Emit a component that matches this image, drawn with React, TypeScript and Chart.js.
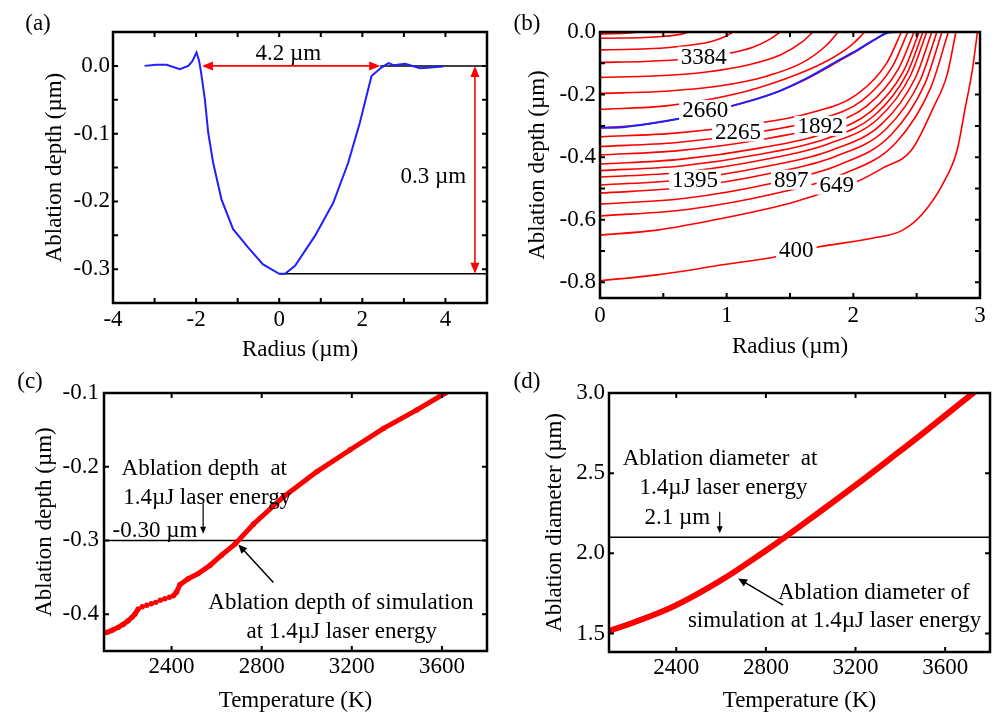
import React, { useEffect, useRef } from 'react';
import { Chart, registerables } from 'chart.js';

Chart.register(...registerables);

const FONT = '"Liberation Serif", "Times New Roman", serif';
const RED = '#ff0000';
const BLUE = '#2020ff';
const BLACK = '#000000';

// ---------- (a) measured crater profile ----------
const aRadius = [-3.24, -2.96, -2.71, -2.39, -2.19, -2.09, -1.99, -1.93, -1.88, -1.79, -1.71, -1.59, -1.39, -1.11, -0.75, -0.39, 0, 0.14, 0.38, 0.86, 1.3, 1.66, 1.94, 2.22, 2.46, 2.63, 2.75, 3.03, 3.39, 3.95];
const aDepth = [0, 0.0015, 0.0015, -0.005, 0, 0.007, 0.0197, 0.008, -0.01, -0.049, -0.098, -0.143, -0.197, -0.241, -0.268, -0.293, -0.307, -0.307, -0.295, -0.251, -0.202, -0.143, -0.084, -0.015, -0.0025, 0.004, 0.001, 0.003, -0.0034, -0.001];
const aArrowSpan = [-1.86, 2.43];
const aArrowX = 4.71;
const aBottom = -0.307;
const aXTicks = [-4, -3, -2, -1, 0, 1, 2, 3, 4, 5];
const aYTicks = [-0.35, -0.3, -0.25, -0.2, -0.15, -0.1, -0.05, 0, 0.05];

// ---------- (b) isotherm contours ----------
const bProfileR = [0, 0.15, 0.32, 0.71, 0.97, 1.37, 1.63, 1.89, 2.03, 2.16, 2.26, 2.35, 2.45];
const bProfileD = [-0.306, -0.305, -0.297, -0.27, -0.244, -0.196, -0.148, -0.089, -0.058, -0.026, -0.004, 0, 0];
const contourLines = [
  [[0, -0.006], [0.1, -0.0055], [0.2, -0.004], [0.26, -0.002], [0.29, 0]],
  [[0, -0.02], [0.175, -0.0194], [0.35, -0.0176], [0.49, -0.0144], [0.595, -0.01], [0.665, -0.0044], [0.7, 0]],
  [[0, -0.057], [0.263, -0.0553], [0.525, -0.0502], [0.735, -0.041], [0.893, -0.0285], [0.998, -0.0125], [1.05, 0]],
  [[0, -0.097], [0.355, -0.0941], [0.71, -0.0854], [0.994, -0.0698], [1.207, -0.0485], [1.349, -0.0213], [1.42, 0]],
  [[0, -0.145], [0.42, -0.1407], [0.84, -0.1276], [1.176, -0.1044], [1.428, -0.0725], [1.596, -0.0319], [1.68, 0]],
  [[0, -0.196], [0.47, -0.1901], [0.94, -0.1725], [1.316, -0.1411], [1.598, -0.098], [1.786, -0.0431], [1.88, 0]],
  [[0, -0.247], [0.52, -0.236], [1.05, -0.2], [1.46, -0.15], [1.78, -0.095], [1.99, -0.04], [2.09, 0]],
  [[0, -0.306], [0.32, -0.297], [0.71, -0.27], [0.97, -0.244], [1.37, -0.196], [1.63, -0.15], [1.89, -0.092], [2.05, -0.055], [2.18, -0.022], [2.27, 0]],
  [[0, -0.335], [0.595, -0.323], [1.19, -0.295], [1.666, -0.258], [2.023, -0.201], [2.261, -0.101], [2.38, 0]],
  [[0, -0.366], [0.608, -0.353], [1.215, -0.322], [1.701, -0.282], [2.066, -0.22], [2.309, -0.11], [2.43, 0]],
  [[0, -0.393], [0.62, -0.379], [1.24, -0.346], [1.736, -0.303], [2.108, -0.236], [2.356, -0.118], [2.48, 0]],
  [[0, -0.422], [0.63, -0.407], [1.26, -0.371], [1.764, -0.325], [2.142, -0.253], [2.394, -0.127], [2.52, 0]],
  [[0, -0.443], [0.638, -0.428], [1.275, -0.39], [1.785, -0.341], [2.168, -0.266], [2.423, -0.133], [2.55, 0]],
  [[0, -0.464], [0.645, -0.448], [1.29, -0.408], [1.806, -0.357], [2.193, -0.278], [2.451, -0.139], [2.58, 0]],
  [[0, -0.489], [0.655, -0.472], [1.31, -0.43], [1.834, -0.377], [2.227, -0.293], [2.489, -0.147], [2.62, 0]],
  [[0, -0.515], [0.665, -0.497], [1.33, -0.453], [1.862, -0.397], [2.261, -0.309], [2.527, -0.155], [2.66, 0]],
  [[0, -0.55], [0.675, -0.531], [1.35, -0.484], [1.89, -0.424], [2.295, -0.33], [2.565, -0.165], [2.7, 0]],
  [[0, -0.588], [0.688, -0.567], [1.375, -0.517], [1.925, -0.453], [2.338, -0.353], [2.613, -0.176], [2.75, 0]],
  [[0, -0.649], [0.45, -0.633], [0.97, -0.595], [1.5, -0.547], [1.71, -0.521], [2.03, -0.478], [2.23, -0.435], [2.46, -0.377], [2.63, -0.243], [2.74, -0.137], [2.81, 0]],
  [[0, -0.795], [0.45, -0.776], [0.97, -0.744], [1.39, -0.718], [1.71, -0.688], [2.15, -0.659], [2.39, -0.633], [2.55, -0.579], [2.71, -0.483], [2.82, -0.377], [2.88, -0.25], [2.94, -0.12], [2.98, 0]],
];
const contourLabels = ['3384', '2660', '2265', '1892', '1395', '897', '649', '400'];
const contourLabelR = [0.82, 0.83, 1.09, 1.74, 0.75, 1.51, 1.87, 1.55];
const contourLabelD = [-0.079, -0.249, -0.318, -0.3, -0.472, -0.472, -0.488, -0.696];
const bXTicks = [0, 0.5, 1, 1.5, 2, 2.5, 3];
const bYTicks = [-0.8, -0.7, -0.6, -0.5, -0.4, -0.3, -0.2, -0.1, 0];

// ---------- (c) depth vs temperature ----------
const cTemp = [2111, 2135, 2163, 2185, 2207, 2225, 2237, 2252, 2270, 2290, 2310, 2330, 2350, 2370, 2390, 2408, 2422, 2437, 2474, 2518, 2570, 2622, 2681, 2763, 2896, 3044, 3193, 3341, 3489, 3615];
const cDepth = [-0.425, -0.422, -0.418, -0.414, -0.409, -0.404, -0.4, -0.393, -0.39, -0.388, -0.386, -0.384, -0.381, -0.379, -0.377, -0.375, -0.37, -0.36, -0.352, -0.345, -0.334, -0.32, -0.305, -0.278, -0.241, -0.207, -0.177, -0.148, -0.123, -0.1];
const cDotted = [2250, 2410];
const cTarget = -0.3;
const cXTicks = [2400, 2800, 3200, 3600];
const cYTicks = [-0.4, -0.3, -0.2, -0.1];

// ---------- (d) diameter vs temperature ----------
const dTemp = [2102, 2236, 2400, 2609, 2802, 2884, 3056, 3205, 3354, 3503, 3734];
const dDiam = [1.517, 1.583, 1.677, 1.84, 2.02, 2.1, 2.275, 2.43, 2.59, 2.752, 3.01];
const dTarget = 2.1;
const dXTicks = [2400, 2800, 3200, 3600];
const dYTicks = [1.5, 2.0, 2.5, 3.0];

const pts = (xs: number[], ys: number[]) => xs.map((x, i) => ({ x, y: ys[i] }));
const pairs = (p: number[][]) => p.map(([x, y]) => ({ x, y }));

function drawHead(ctx: any, x: number, y: number, ang: number, hl: number, hw: number) {
  const c = Math.cos(ang), s = Math.sin(ang);
  ctx.beginPath();
  ctx.moveTo(x, y);
  ctx.lineTo(x - hl * c + hw * s, y - hl * s - hw * c);
  ctx.lineTo(x - hl * c - hw * s, y - hl * s + hw * c);
  ctx.closePath();
  ctx.fill();
}

function decorPlugin(d: any) {
  return {
    id: 'decor',
    afterDatasetsDraw(chart: any) {
      const { ctx, scales } = chart;
      const xs = scales.x, ys = scales.y;
      ctx.save();
      for (const a of d.arrows || []) {
        const x1 = xs.getPixelForValue(a.x1), y1 = ys.getPixelForValue(a.y1);
        const x2 = xs.getPixelForValue(a.x2), y2 = ys.getPixelForValue(a.y2);
        const ang = Math.atan2(y2 - y1, x2 - x1);
        const c = Math.cos(ang), s = Math.sin(ang);
        ctx.strokeStyle = a.color;
        ctx.fillStyle = a.color;
        ctx.lineWidth = a.w;
        const k1 = a.both ? a.hl * 0.7 : 0;
        const k2 = a.hl * 0.7;
        ctx.beginPath();
        ctx.moveTo(x1 + c * k1, y1 + s * k1);
        ctx.lineTo(x2 - c * k2, y2 - s * k2);
        ctx.stroke();
        drawHead(ctx, x2, y2, ang, a.hl, a.hw);
        if (a.both) drawHead(ctx, x1, y1, ang + Math.PI, a.hl, a.hw);
      }
      ctx.font = `23px ${FONT}`;
      ctx.textBaseline = 'middle';
      for (const t of d.texts || []) {
        const px = xs.getPixelForValue(t.x), py = ys.getPixelForValue(t.y);
        ctx.textAlign = t.align || 'left';
        if (t.box) {
          const w = ctx.measureText(t.t).width;
          ctx.fillStyle = '#ffffff';
          ctx.fillRect(px - w / 2 - 3, py - 10, w + 6, 20);
        }
        ctx.fillStyle = BLACK;
        ctx.fillText(t.t, px, py + 1);
      }
      ctx.restore();
    },
    afterDraw(chart: any) {
      const { ctx, chartArea: ca, scales } = chart;
      const xs = scales.x, ys = scales.y;
      ctx.save();
      ctx.strokeStyle = BLACK;
      ctx.lineWidth = 2.5;
      ctx.strokeRect(ca.left, ca.top, ca.right - ca.left, ca.bottom - ca.top);
      ctx.lineWidth = 2;
      const L = 5;
      ctx.beginPath();
      for (const t of xs.ticks) {
        if (t.value <= xs.min + 1e-9 || t.value >= xs.max - 1e-9) continue;
        const p = xs.getPixelForValue(t.value);
        ctx.moveTo(p, ca.bottom); ctx.lineTo(p, ca.bottom - L);
        ctx.moveTo(p, ca.top); ctx.lineTo(p, ca.top + L);
      }
      for (const t of ys.ticks) {
        if (t.value <= ys.min + 1e-9 || t.value >= ys.max - 1e-9) continue;
        const p = ys.getPixelForValue(t.value);
        ctx.moveTo(ca.left, p); ctx.lineTo(ca.left + L, p);
        ctx.moveTo(ca.right, p); ctx.lineTo(ca.right - L, p);
      }
      ctx.stroke();
      ctx.font = `23px ${FONT}`;
      ctx.textAlign = 'center';
      ctx.textBaseline = 'middle';
      ctx.fillStyle = BLACK;
      ctx.fillText(d.label, d.lx, d.ly);
      ctx.restore();
    },
  };
}

function makeOptions(p: any) {
  const tickFont = { family: FONT, size: 23 };
  const titleFont = { family: FONT, size: 23, lineHeight: 1.1 };
  return {
    responsive: false,
    animation: false,
    devicePixelRatio: 1,
    events: [],
    layout: { padding: p.pad },
    plugins: { legend: { display: false }, tooltip: { enabled: false } },
    scales: {
      x: {
        type: 'linear',
        min: p.xmin,
        max: p.xmax,
        afterFit: (s: any) => { s.height = p.xH; },
        afterBuildTicks: (s: any) => { s.ticks = p.xTicks.map((v: number) => ({ value: v })); },
        ticks: {
          autoSkip: false,
          maxRotation: 0,
          minRotation: 0,
          padding: p.xTickPad,
          font: tickFont,
          color: BLACK,
          callback: (v: any) => p.xfmt(Number(v)),
        },
        grid: { display: false, drawTicks: false },
        border: { display: false },
        title: { display: true, text: p.xTitle, font: titleFont, color: BLACK, padding: { top: 0, bottom: 0 } },
      },
      y: {
        type: 'linear',
        min: p.ymin,
        max: p.ymax,
        afterFit: (s: any) => { s.width = p.yW; },
        afterBuildTicks: (s: any) => { s.ticks = p.yTicks.map((v: number) => ({ value: v })); },
        ticks: {
          autoSkip: false,
          padding: p.yTickPad,
          font: tickFont,
          color: BLACK,
          callback: (v: any) => p.yfmt(Number(v)),
        },
        grid: { display: false, drawTicks: false },
        border: { display: false },
        title: { display: true, text: p.yTitle, font: titleFont, color: BLACK, padding: { top: p.yTitlePad, bottom: 0 } },
      },
    },
  };
}

const isMult = (v: number, m: number) => Math.abs(Math.round(v / m) * m - v) < 1e-6;
const fmt1 = (v: number) => (Math.round(v * 10) / 10).toFixed(1);

function makeA() {
  return {
    type: 'line',
    data: {
      datasets: [
        { data: pts(aRadius, aDepth), borderColor: BLUE, borderWidth: 2, pointRadius: 0, tension: 0 },
        { data: pts([aArrowSpan[1], 5], [0, 0]), borderColor: BLACK, borderWidth: 1.5, pointRadius: 0 },
        { data: pts([0, 5], [aBottom, aBottom]), borderColor: BLACK, borderWidth: 1.5, pointRadius: 0 },
      ],
    },
    options: makeOptions({
      pad: { left: 30, right: 9, top: 32, bottom: 9 }, yW: 83, xH: 60, yTitlePad: 12, xTickPad: 3, yTickPad: 3,
      xmin: -4, xmax: 5, xTicks: aXTicks, xfmt: (v: number) => (isMult(v, 2) ? String(Math.round(v)) : ''),
      ymin: -0.35, ymax: 0.05, yTicks: aYTicks, yfmt: (v: number) => (isMult(v, 0.1) ? fmt1(v) : ''),
      xTitle: 'Radius (µm)', yTitle: 'Ablation depth (µm)',
    }),
    plugins: [decorPlugin({
      label: '(a)', lx: 38, ly: 24,
      arrows: [
        { x1: aArrowSpan[0], y1: 0, x2: aArrowSpan[1], y2: 0, color: RED, w: 1.6, both: true, hl: 11, hw: 4.5 },
        { x1: aArrowX, y1: 0, x2: aArrowX, y2: aBottom, color: RED, w: 1.6, both: true, hl: 11, hw: 4.5 },
      ],
      texts: [
        { t: '4.2 µm', x: 0.22, y: 0.0198, align: 'center' },
        { t: '0.3 µm', x: 3.71, y: -0.162, align: 'center' },
      ],
    })],
  };
}

function makeB() {
  const sets: any[] = [
    { data: pts(bProfileR, bProfileD), borderColor: BLUE, borderWidth: 2, pointRadius: 0, cubicInterpolationMode: 'monotone' },
  ];
  for (const line of contourLines) {
    sets.push({ data: pairs(line), borderColor: RED, borderWidth: 1.6, pointRadius: 0, cubicInterpolationMode: 'monotone' });
  }
  return {
    type: 'line',
    data: { datasets: sets },
    options: makeOptions({
      pad: { left: 10, right: 13, top: 32, bottom: 12 }, yW: 94, xH: 62, yTitlePad: 19, xTickPad: 4, yTickPad: 4,
      xmin: 0, xmax: 3, xTicks: bXTicks, xfmt: (v: number) => (isMult(v, 1) ? String(Math.round(v)) : ''),
      ymin: -0.85, ymax: 0, yTicks: bYTicks, yfmt: (v: number) => (isMult(v, 0.2) ? fmt1(v) : ''),
      xTitle: 'Radius (µm)', yTitle: 'Ablation depth (µm)',
    }),
    plugins: [decorPlugin({
      label: '(b)', lx: 31, ly: 24,
      texts: contourLabels.map((t, i) => ({ t, x: contourLabelR[i], y: contourLabelD[i], align: 'center', box: true })),
    })],
  };
}

function makeC() {
  return {
    type: 'line',
    data: {
      datasets: [
        {
          data: pts(cTemp, cDepth), borderColor: RED, borderWidth: 5, pointRadius: 2.7, pointBorderWidth: 0,
          pointBackgroundColor: RED, tension: 0,
          segment: { borderColor: (ctx: any) => (ctx.p0.parsed.x >= cDotted[0] && ctx.p1.parsed.x <= cDotted[1] ? 'rgba(0,0,0,0)' : RED) },
        },
        { data: pts([2100, 3800], [cTarget, cTarget]), borderColor: BLACK, borderWidth: 1.5, pointRadius: 0 },
      ],
    },
    options: makeOptions({
      pad: { left: 10, right: 9, top: 36, bottom: 0 }, yW: 94, xH: 63, yTitlePad: 22, xTickPad: 2, yTickPad: 5,
      xmin: 2100, xmax: 3800, xTicks: cXTicks, xfmt: (v: number) => String(Math.round(v)),
      ymin: -0.45, ymax: -0.1, yTicks: cYTicks, yfmt: (v: number) => fmt1(v),
      xTitle: 'Temperature (K)', yTitle: 'Ablation depth (µm)',
    }),
    plugins: [decorPlugin({
      label: '(c)', lx: 30, ly: 25,
      arrows: [
        { x1: 2540, y1: -0.25, x2: 2540, y2: -0.291, color: BLACK, w: 1.2, hl: 7, hw: 3 },
        { x1: 2852, y1: -0.357, x2: 2696, y2: -0.3055, color: BLACK, w: 1.5, hl: 9, hw: 4 },
      ],
      texts: [
        { t: 'Ablation depth  at', x: 2178, y: -0.202 },
        { t: '1.4µJ laser energy', x: 2185, y: -0.241 },
        { t: '-0.30 µm', x: 2138, y: -0.286 },
        { t: 'Ablation depth of simulation', x: 2563, y: -0.384 },
        { t: 'at 1.4µJ laser energy', x: 2733, y: -0.423 },
      ],
    })],
  };
}

function makeD() {
  return {
    type: 'line',
    data: {
      datasets: [
        { data: pts(dTemp, dDiam), borderColor: RED, borderWidth: 6, pointRadius: 0, tension: 0.4 },
        { data: pts([2100, 3800], [dTarget, dTarget]), borderColor: BLACK, borderWidth: 1.5, pointRadius: 0 },
      ],
    },
    options: makeOptions({
      pad: { left: 10, right: 3, top: 36, bottom: 0 }, yW: 103, xH: 62, yTitlePad: 36, xTickPad: 2, yTickPad: 4,
      xmin: 2100, xmax: 3800, xTicks: dXTicks, xfmt: (v: number) => String(Math.round(v)),
      ymin: 1.385, ymax: 3.0, yTicks: dYTicks, yfmt: (v: number) => fmt1(v),
      xTitle: 'Temperature (K)', yTitle: 'Ablation diameter (µm)',
    }),
    plugins: [decorPlugin({
      label: '(d)', lx: 31, ly: 25,
      arrows: [
        { x1: 2594, y1: 2.26, x2: 2594, y2: 2.125, color: BLACK, w: 1.2, hl: 7, hw: 3 },
        { x1: 2877, y1: 1.677, x2: 2676, y2: 1.844, color: BLACK, w: 1.5, hl: 9, hw: 4 },
      ],
      texts: [
        { t: 'Ablation diameter  at', x: 2161, y: 2.594 },
        { t: '1.4µJ laser energy', x: 2236, y: 2.416 },
        { t: '2.1 µm', x: 2258, y: 2.229 },
        { t: 'Ablation diameter of', x: 2854, y: 1.76 },
        { t: 'simulation at 1.4µJ laser energy', x: 2452, y: 1.583 },
      ],
    })],
  };
}

function Panel(props: any) {
  const { left, top, width, height, make } = props;
  const ref = useRef<HTMLCanvasElement>(null);
  useEffect(() => {
    const chart = new Chart(ref.current as any, make() as any);
    return () => chart.destroy();
  }, []);
  return (
    <canvas
      ref={ref}
      width={width}
      height={height}
      style={{ position: 'absolute', left, top, width, height, display: 'block' }}
    />
  );
}

export default function App() {
  return (
    <div style={{ position: 'absolute', left: 0, top: 0, width: 993, height: 714, background: '#ffffff', overflow: 'hidden' }}>
      <Panel left={0} top={0} width={496} height={372} make={makeA} />
      <Panel left={496} top={0} width={497} height={372} make={makeB} />
      <Panel left={0} top={357} width={496} height={357} make={makeC} />
      <Panel left={496} top={357} width={497} height={357} make={makeD} />
    </div>
  );
}
